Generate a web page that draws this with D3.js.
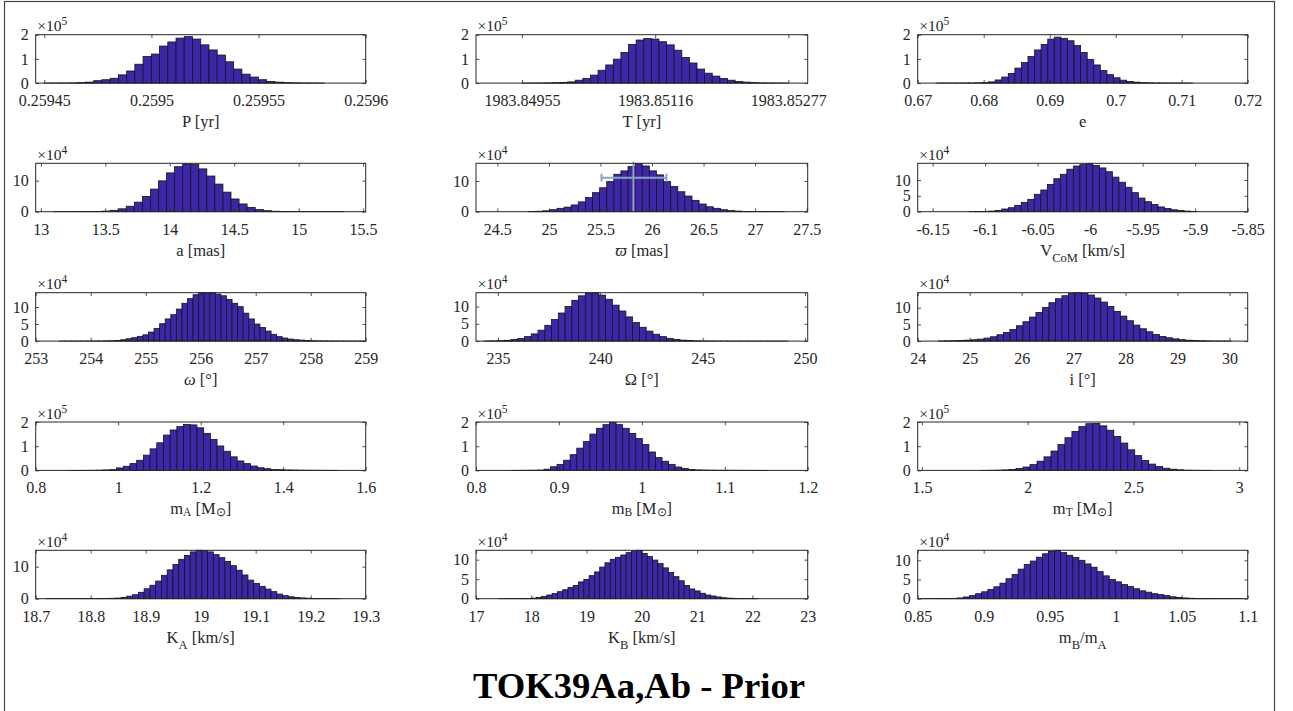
<!DOCTYPE html>
<html>
<head>
<meta charset="utf-8">
<script src="https://cdn.jsdelivr.net/npm/d3@7"></script>
<style>
  html, body { margin: 0; padding: 0; background: #fff; }
  svg { display: block; }
</style>
</head>
<body>
<svg id="fig" width="1293" height="711"></svg>
<script>
// ---------------- posterior sample histograms ----------------
// each histogram: axis limits, x tick values, [first bin edge, bin width],
// counts in units of 10^power, y-axis top, y tick values

// P [yr]
const periodLimits = [0.259446, 0.2596];
const periodTicks = [0.25945, 0.2595, 0.25955, 0.2596];
const periodBins = [0.25945, 0.000003843];
const periodCounts = [0.002, 0.003, 0.005, 0.008, 0.02, 0.04, 0.1, 0.14, 0.2, 0.34, 0.5, 0.78, 1.1, 1.2, 1.53, 1.7, 1.86, 1.92, 1.82, 1.58, 1.37, 1.16, 0.88, 0.58, 0.37, 0.25, 0.14, 0.07, 0.04, 0.02, 0.01, 0.006, 0.004, 0.002];
const periodY = [2, 5];
const periodYTicks = [0, 1, 2];

// T [yr]
const epochLimits = [1983.848994, 1983.853004];
const epochTicks = [1983.84955, 1983.85116, 1983.85277];
const epochBins = [1983.84955, 0.000092];
const epochCounts = [0.002, 0.003, 0.005, 0.01, 0.018, 0.03, 0.05, 0.12, 0.19, 0.33, 0.53, 0.75, 0.99, 1.27, 1.6, 1.78, 1.84, 1.82, 1.71, 1.58, 1.36, 1.06, 0.83, 0.58, 0.41, 0.29, 0.19, 0.12, 0.07, 0.04, 0.02, 0.01, 0.006, 0.003, 0.002];
const epochY = [2, 5];
const epochYTicks = [0, 1, 2];

// e
const eccLimits = [0.67, 0.72];
const eccTicks = [0.67, 0.68, 0.69, 0.7, 0.71, 0.72];
const eccBins = [0.67277, 0.000996];
const eccCounts = [0.001, 0.002, 0.002, 0.003, 0.005, 0.008, 0.012, 0.02, 0.05, 0.13, 0.25, 0.4, 0.62, 0.85, 1.1, 1.37, 1.6, 1.82, 1.9, 1.85, 1.75, 1.55, 1.27, 0.98, 0.75, 0.52, 0.35, 0.22, 0.12, 0.07, 0.04, 0.02, 0.01, 0.008, 0.005, 0.003, 0.002, 0.002, 0.001];
const eccY = [2, 5];
const eccYTicks = [0, 1, 2];

// a [mas]
const axisLimits = [12.96, 15.52];
const axisTicks = [13, 13.5, 14, 14.5, 15, 15.5];
const axisBins = [13.1, 0.0625];
const axisCounts = [0.005, 0.008, 0.012, 0.02, 0.03, 0.08, 0.2, 0.45, 0.93, 1.76, 3.07, 4.92, 7.29, 9.94, 12.5, 14.5, 15.4, 15.2, 13.8, 11.5, 8.9, 6.3, 4.1, 2.5, 1.4, 0.7, 0.33, 0.15, 0.06, 0.03, 0.02, 0.01, 0.008, 0.005, 0.003, 0.002];
const axisY = [15.6, 4];
const axisYTicks = [0, 10];

// parallax [mas]
const plxLimits = [24.293, 27.51];
const plxTicks = [24.5, 25, 25.5, 26, 26.5, 27, 27.5];
const plxBins = [24.803, 0.0689];
const plxCounts = [0.05, 0.15, 0.3, 0.65, 1.1, 1.5, 2.2, 3.2, 4.6, 6.2, 7.8, 9.8, 12.2, 13.3, 14.7, 15.7, 14.9, 13.3, 12.0, 9.8, 8.2, 6.5, 5.1, 3.7, 2.5, 1.6, 1.1, 0.65, 0.35, 0.2, 0.1, 0.06, 0.03, 0.02, 0.01, 0.005];
const plxY = [15.77, 4];
const plxYTicks = [0, 10];
// reference parallax: value, lower, upper, marker height, bar height
const plxRef = [25.82, 25.51, 26.14, 16.3, 11.1];

// V_CoM [km/s]
const vcomLimits = [-6.1642, -5.85];
const vcomTicks = [-6.15, -6.1, -6.05, -6, -5.95, -5.9, -5.85];
const vcomBins = [-6.1152, 0.0062];
const vcomCounts = [0.02, 0.05, 0.1, 0.2, 0.4, 0.85, 1.25, 2.0, 2.95, 3.9, 5.5, 6.85, 8.6, 10.4, 11.8, 13.4, 14.4, 14.85, 15.2, 14.6, 13.8, 12.6, 10.9, 9.3, 7.7, 6.0, 4.3, 3.15, 2.3, 1.5, 1.05, 0.6, 0.4, 0.2, 0.1];
const vcomY = [15.26, 4];
const vcomYTicks = [0, 5, 10];

// omega [deg]
const argLimits = [253, 259];
const argTicks = [253, 254, 255, 256, 257, 258, 259];
const argBins = [253.43, 0.1013];
const argCounts = [0.002, 0.002, 0.003, 0.004, 0.006, 0.01, 0.02, 0.04, 0.06, 0.1, 0.2, 0.4, 0.7, 1.0, 1.4, 1.85, 2.65, 3.7, 5.1, 6.5, 7.75, 9.4, 11.1, 12.45, 13.6, 14.2, 14.2, 14.2, 13.8, 13.3, 12.25, 11.1, 10.1, 8.2, 6.5, 5.0, 4.0, 2.95, 2.0, 1.3, 0.9, 0.6, 0.4, 0.3, 0.15, 0.1, 0.06, 0.04, 0.03, 0.02, 0.01, 0.01, 0.005, 0.005, 0.003];
const argY = [14.2, 4];
const argYTicks = [0, 5, 10];

// Omega [deg]
const nodeLimits = [233.93, 250.13];
const nodeTicks = [235, 240, 245, 250];
const nodeBins = [234.32, 0.33];
const nodeCounts = [0.03, 0.06, 0.12, 0.23, 0.44, 0.77, 1.3, 2.08, 3.16, 4.56, 6.24, 8.12, 10.0, 11.8, 13.1, 13.9, 13.95, 13.3, 12.1, 10.4, 8.7, 7.0, 5.4, 4.0, 2.9, 2.0, 1.3, 0.8, 0.5, 0.28, 0.15, 0.08, 0.04, 0.02, 0.01, 0.008, 0.006, 0.005, 0.004, 0.003, 0.003, 0.002, 0.002, 0.001, 0.001];
const nodeY = [14.0, 4];
const nodeYTicks = [0, 5, 10];

// i [deg]
const inclLimits = [24, 30.35];
const inclTicks = [24, 25, 26, 27, 28, 29, 30];
const inclBins = [24.4, 0.125];
const inclCounts = [0.05, 0.08, 0.13, 0.2, 0.28, 0.4, 0.6, 0.9, 1.3, 1.9, 2.6, 3.5, 4.6, 5.8, 7.2, 8.6, 10.1, 11.5, 12.7, 13.6, 14.3, 14.5, 14.3, 13.8, 12.9, 11.7, 10.4, 8.9, 7.5, 6.1, 4.8, 3.7, 2.8, 2.0, 1.4, 1.0, 0.66, 0.43, 0.27, 0.16, 0.1, 0.06, 0.03, 0.02, 0.01];
const inclY = [14.5, 4];
const inclYTicks = [0, 5, 10];

// m_A [Msun]
const massALimits = [0.8, 1.6];
const massATicks = [0.8, 1, 1.2, 1.4, 1.6];
const massABins = [0.8824, 0.01624];
const massACounts = [0.001, 0.002, 0.003, 0.005, 0.01, 0.02, 0.03, 0.1, 0.17, 0.28, 0.42, 0.63, 0.89, 1.14, 1.46, 1.67, 1.81, 1.9, 1.88, 1.76, 1.53, 1.28, 1.01, 0.79, 0.56, 0.39, 0.28, 0.18, 0.11, 0.07, 0.04, 0.03, 0.02, 0.015, 0.01, 0.007, 0.005, 0.004, 0.003, 0.002];
const massAY = [2, 5];
const massAYTicks = [0, 1, 2];

// m_B [Msun]
const massBLimits = [0.8, 1.2];
const massBTicks = [0.8, 0.9, 1, 1.1, 1.2];
const massBBins = [0.8424, 0.00791];
const massBCounts = [0.002, 0.003, 0.005, 0.008, 0.015, 0.05, 0.15, 0.25, 0.42, 0.65, 0.92, 1.19, 1.5, 1.74, 1.89, 1.99, 1.89, 1.74, 1.53, 1.32, 1.07, 0.76, 0.53, 0.38, 0.25, 0.14, 0.08, 0.04, 0.02, 0.015, 0.01, 0.008, 0.006, 0.005, 0.004, 0.003, 0.003, 0.002, 0.002];
const massBY = [2, 5];
const massBYTicks = [0, 1, 2];

// m_T [Msun]
const massTLimits = [1.48, 3.04];
const massTTicks = [1.5, 2, 2.5, 3];
const massTBins = [1.78, 0.033];
const massTCounts = [0.002, 0.005, 0.01, 0.02, 0.04, 0.08, 0.14, 0.24, 0.38, 0.56, 0.8, 1.07, 1.35, 1.61, 1.81, 1.93, 1.94, 1.84, 1.66, 1.4, 1.13, 0.85, 0.61, 0.41, 0.26, 0.16, 0.09, 0.05, 0.025, 0.01, 0.005, 0.003, 0.002];
const massTY = [2, 5];
const massTYTicks = [0, 1, 2];

// K_A [km/s]
const kALimits = [18.7, 19.3];
const kATicks = [18.7, 18.8, 18.9, 19, 19.1, 19.2, 19.3];
const kABins = [18.7189, 0.010485];
const kACounts = [0.002, 0.002, 0.003, 0.004, 0.006, 0.008, 0.012, 0.02, 0.03, 0.05, 0.08, 0.12, 0.2, 0.4, 0.8, 1.25, 2.0, 3.1, 4.2, 5.5, 7.3, 9.0, 10.7, 12.3, 13.5, 14.6, 15.1, 15.0, 14.6, 13.75, 12.8, 11.6, 10.3, 8.9, 7.4, 5.8, 4.8, 3.85, 3.0, 2.2, 1.45, 0.95, 0.6, 0.4, 0.25, 0.15, 0.08, 0.05, 0.03, 0.02, 0.01];
const kAY = [15.1, 4];
const kAYTicks = [0, 10];

// K_B [km/s]
const kBLimits = [17, 23];
const kBTicks = [17, 18, 19, 20, 21, 22, 23];
const kBBins = [17.4215, 0.09557];
const kBCounts = [0.005, 0.008, 0.012, 0.02, 0.04, 0.08, 0.15, 0.35, 0.6, 0.95, 1.35, 1.8, 2.3, 2.9, 3.4, 4.3, 4.95, 5.9, 6.85, 8.1, 9.2, 10.1, 10.6, 11.2, 11.8, 12.2, 12.4, 11.6, 10.8, 9.9, 9.0, 7.9, 6.75, 5.65, 4.6, 3.4, 2.5, 2.0, 1.4, 0.95, 0.7, 0.45, 0.25, 0.15, 0.1, 0.06, 0.04, 0.02, 0.01];
const kBY = [12.4, 4];
const kBYTicks = [0, 5, 10];

// m_B/m_A
const ratioLimits = [0.85, 1.1];
const ratioTicks = [0.85, 0.9, 0.95, 1, 1.05, 1.1];
const ratioBins = [0.8525, 0.0046];
const ratioCounts = [0.005, 0.01, 0.02, 0.04, 0.06, 0.1, 0.2, 0.45, 0.8, 1.3, 1.8, 2.4, 3.1, 4.05, 5.2, 6.3, 7.7, 8.9, 9.8, 10.8, 11.7, 12.3, 12.6, 12.0, 11.3, 10.7, 10.0, 9.05, 8.2, 7.05, 5.95, 5.0, 4.4, 3.7, 3.2, 2.6, 2.05, 1.7, 1.3, 1.05, 0.8, 0.5, 0.35, 0.2, 0.12, 0.08, 0.05, 0.03, 0.02, 0.015, 0.01, 0.008, 0.005];
const ratioY = [12.6, 4];
const ratioYTicks = [0, 5, 10];

// axis titles: plain text runs, sub = downward shift in px
const titles = [
  [{ t: 'P [yr]' }],
  [{ t: 'T [yr]' }],
  [{ t: 'e' }],
  [{ t: 'a [mas]' }],
  [{ t: '\u03D6', it: true }, { t: ' [mas]' }],
  [{ t: 'V' }, { t: 'CoM', sub: 6, size: 12.5 }, { t: ' [km/s]' }],
  [{ t: '\u03C9', it: true }, { t: ' [\u00B0]' }],
  [{ t: '\u03A9 [\u00B0]' }],
  [{ t: 'i [\u00B0]' }],
  [{ t: 'm' }, { t: 'A', sub: 2, size: 11.5 }, { t: '  [M' }, { t: '\u2299', sub: 2, size: 11.5 }, { t: ']' }],
  [{ t: 'm' }, { t: 'B', sub: 2, size: 11.5 }, { t: '  [M' }, { t: '\u2299', sub: 2, size: 11.5 }, { t: ']' }],
  [{ t: 'm' }, { t: 'T', sub: 2, size: 11.5 }, { t: '  [M' }, { t: '\u2299', sub: 2, size: 11.5 }, { t: ']' }],
  [{ t: 'K' }, { t: 'A', sub: 6, size: 12.5 }, { t: ' [km/s]' }],
  [{ t: 'K' }, { t: 'B', sub: 6, size: 12.5 }, { t: ' [km/s]' }],
  [{ t: 'm' }, { t: 'B', sub: 6, size: 12.5 }, { t: '/m' }, { t: 'A', sub: 6, size: 12.5 }]
];

const figureTitle = 'TOK39Aa,Ab - Prior';

// ---------------- assemble ----------------
const mk = (limits, ticks, bins, counts, y, yTicks) => ({ limits, ticks, bins, counts, yTop: y[0], power: y[1], yTicks });
const panels = [
  mk(periodLimits, periodTicks, periodBins, periodCounts, periodY, periodYTicks),
  mk(epochLimits, epochTicks, epochBins, epochCounts, epochY, epochYTicks),
  mk(eccLimits, eccTicks, eccBins, eccCounts, eccY, eccYTicks),
  mk(axisLimits, axisTicks, axisBins, axisCounts, axisY, axisYTicks),
  mk(plxLimits, plxTicks, plxBins, plxCounts, plxY, plxYTicks),
  mk(vcomLimits, vcomTicks, vcomBins, vcomCounts, vcomY, vcomYTicks),
  mk(argLimits, argTicks, argBins, argCounts, argY, argYTicks),
  mk(nodeLimits, nodeTicks, nodeBins, nodeCounts, nodeY, nodeYTicks),
  mk(inclLimits, inclTicks, inclBins, inclCounts, inclY, inclYTicks),
  mk(massALimits, massATicks, massABins, massACounts, massAY, massAYTicks),
  mk(massBLimits, massBTicks, massBBins, massBCounts, massBY, massBYTicks),
  mk(massTLimits, massTTicks, massTBins, massTCounts, massTY, massTYTicks),
  mk(kALimits, kATicks, kABins, kACounts, kAY, kAYTicks),
  mk(kBLimits, kBTicks, kBBins, kBCounts, kBY, kBYTicks),
  mk(ratioLimits, ratioTicks, ratioBins, ratioCounts, ratioY, ratioYTicks)
];
panels.forEach((p, i) => { p.title = titles[i]; });
panels[4].ref = plxRef;

// ---------------- fonts ----------------
// use the first installed serif face (compared against generic fallbacks)
function firstInstalled(families) {
  const ctx = document.createElement('canvas').getContext('2d');
  const probe = 'mmmmmmmmmmlli1WQ0@#gq';
  const widthWith = f => { ctx.font = '72px ' + f; return ctx.measureText(probe).width; };
  for (const fam of families) {
    for (const base of ['monospace', 'sans-serif']) {
      if (widthWith(`'${fam}', ${base}`) !== widthWith(base)) return `'${fam}'`;
    }
  }
  return null;
}
const serifFace = firstInstalled(['Liberation Serif', 'Times New Roman', 'Tinos', 'Times', 'Nimbus Roman', 'Nimbus Roman No9 L', 'FreeSerif', 'DejaVu Serif', 'Noto Serif', 'Bitstream Vera Serif', 'Georgia', 'STIXGeneral']);
const SERIF = (serifFace ? serifFace + ', ' : '') + 'serif';

// ---------------- layout & style ----------------
const colLeft = [35.7, 476, 917.7];
const colWidth = [330, 331.7, 330];
const rowTop = [34.7, 163.3, 292.7, 422, 550.3];
const axH = 48.4;
const TICK = 3.3;
const AX = '#262626';
const BAR = '#3e26a8';
const EDGE = '#141414';

const svg = d3.select('#fig');
svg.append('rect').attr('width', 1293).attr('height', 711).attr('fill', '#fff');
svg.append('rect')
  .attr('x', 4.5).attr('y', 1.5).attr('width', 1270).attr('height', 712)
  .attr('fill', 'none').attr('stroke', '#444').attr('stroke-width', 1.2);

function styleAxis(sel) {
  sel.attr('font-family', SERIF).attr('font-size', 16);
  sel.select('.domain').remove();
  sel.selectAll('line').attr('stroke', AX).attr('stroke-width', 0.8);
  sel.selectAll('text').attr('fill', AX);
}

function drawPanel(p, k) {
  const col = k % 3, row = Math.floor(k / 3);
  const w = colWidth[col], h = axH;
  const g = svg.append('g').attr('transform', `translate(${colLeft[col]},${rowTop[row]})`);
  const x = d3.scaleLinear().domain(p.limits).range([0, w]);
  const y = d3.scaleLinear().domain([0, p.yTop]).range([h, 0]);

  const bins = p.counts.map((c, i) => ({
    a: p.bins[0] + i * p.bins[1],
    b: p.bins[0] + (i + 1) * p.bins[1],
    c
  }));
  g.append('g').selectAll('rect').data(bins).join('rect')
    .attr('x', d => x(d.a))
    .attr('width', d => x(d.b) - x(d.a))
    .attr('y', d => y(d.c))
    .attr('height', d => Math.max(0, h - y(d.c)))
    .attr('fill', BAR)
    .attr('stroke', EDGE)
    .attr('stroke-width', 0.8);

  if (p.ref) {
    const [v, lo, hi, top, yb] = p.ref;
    const eg = g.append('g').attr('stroke', '#8ba3c5').attr('stroke-width', 2).attr('fill', 'none');
    eg.append('line').attr('x1', x(v)).attr('x2', x(v)).attr('y1', y(0)).attr('y2', y(top));
    eg.append('line').attr('x1', x(lo)).attr('x2', x(hi)).attr('y1', y(yb)).attr('y2', y(yb));
    eg.append('line').attr('x1', x(lo)).attr('x2', x(lo)).attr('y1', y(yb) - 4).attr('y2', y(yb) + 4);
    eg.append('line').attr('x1', x(hi)).attr('x2', x(hi)).attr('y1', y(yb) - 4).attr('y2', y(yb) + 4);
  }

  g.append('g').attr('transform', `translate(0,${h})`)
    .call(d3.axisBottom(x).tickValues(p.ticks).tickFormat(String)
      .tickSizeInner(-TICK).tickSizeOuter(0).tickPadding(11.5))
    .call(styleAxis);
  g.append('g')
    .call(d3.axisTop(x).tickValues(p.ticks).tickFormat(() => '')
      .tickSizeInner(-TICK).tickSizeOuter(0))
    .call(styleAxis);
  g.append('g')
    .call(d3.axisLeft(y).tickValues(p.yTicks).tickFormat(String)
      .tickSizeInner(-TICK).tickSizeOuter(0).tickPadding(7))
    .call(styleAxis);
  g.append('g').attr('transform', `translate(${w},0)`)
    .call(d3.axisRight(y).tickValues(p.yTicks).tickFormat(() => '')
      .tickSizeInner(-TICK).tickSizeOuter(0))
    .call(styleAxis);

  g.append('rect').attr('width', w).attr('height', h)
    .attr('fill', 'none').attr('stroke', AX).attr('stroke-width', 1);

  // exponent label
  const ex = g.append('text').attr('x', 1.5).attr('y', -3.5)
    .attr('fill', AX).attr('font-family', SERIF).attr('font-size', 15.5);
  ex.append('tspan').text('\u00D710');
  ex.append('tspan').attr('dy', -6).attr('font-size', 11.5).text(p.power);

  // axis title
  const tt = g.append('text').attr('x', w / 2).attr('y', h + 44)
    .attr('text-anchor', 'middle').attr('fill', AX)
    .attr('font-family', SERIF).attr('font-size', 16.5);
  let shift = 0;
  p.title.forEach(s => {
    const dy = (s.sub || 0) - shift;
    shift = s.sub || 0;
    const ts = tt.append('tspan').attr('dy', dy).text(s.t);
    if (s.size) ts.attr('font-size', s.size);
    if (s.it) ts.attr('font-style', 'italic');
  });
}

panels.forEach(drawPanel);

svg.append('text')
  .attr('x', 639).attr('y', 698)
  .attr('text-anchor', 'middle')
  .attr('fill', '#000')
  .attr('textLength', 332).attr('lengthAdjust', 'spacingAndGlyphs')
  .attr('font-family', SERIF).attr('font-weight', 'bold').attr('font-size', 35)
  .text(figureTitle);
</script>
</body>
</html>
